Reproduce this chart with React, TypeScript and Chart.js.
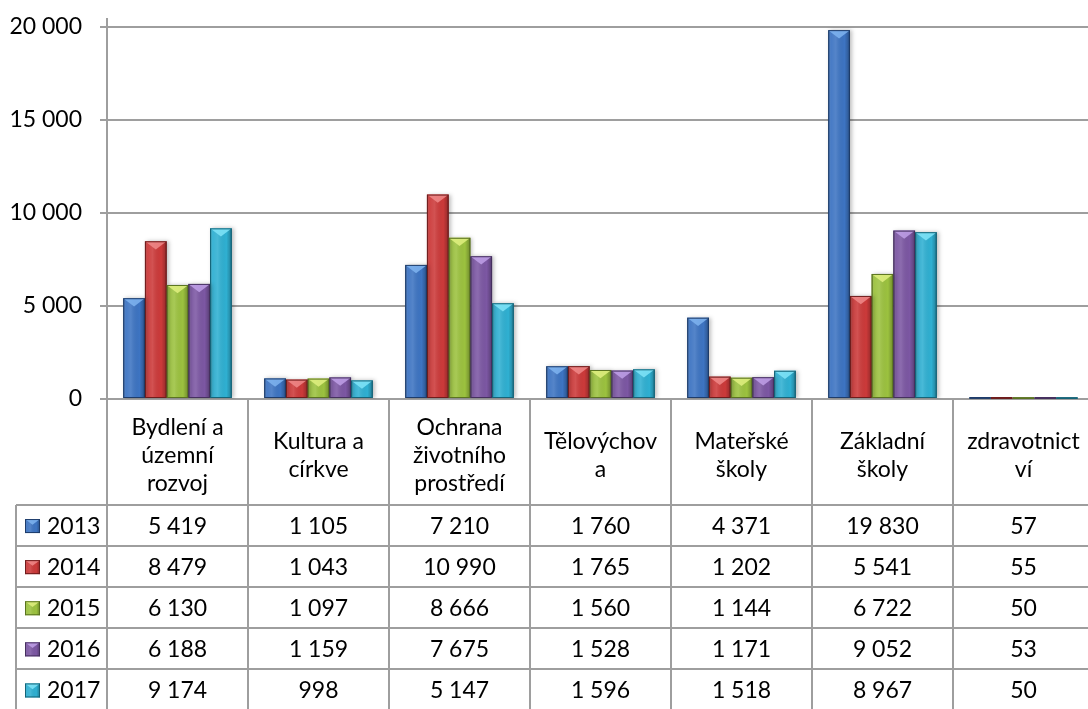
import React, { useEffect, useRef } from "react";
import { Chart, registerables } from "chart.js";

Chart.register(...registerables);

const categories = [
  "Bydlení a územní rozvoj",
  "Kultura a církve",
  "Ochrana životního prostředí",
  "Tělovýchova",
  "Mateřské školy",
  "Základní školy",
  "zdravotnictví",
];
const categoryLines = [
  ["Bydlení a", "územní", "rozvoj"],
  ["Kultura a", "církve"],
  ["Ochrana", "životního", "prostředí"],
  ["Tělovýchov", "a"],
  ["Mateřské", "školy"],
  ["Základní", "školy"],
  ["zdravotnict", "ví"],
];
const years = ["2013", "2014", "2015", "2016", "2017"];
const v2013 = [5419, 1105, 7210, 1760, 4371, 19830, 57];
const v2014 = [8479, 1043, 10990, 1765, 1202, 5541, 55];
const v2015 = [6130, 1097, 8666, 1560, 1144, 6722, 50];
const v2016 = [6188, 1159, 7675, 1528, 1171, 9052, 53];
const v2017 = [9174, 998, 5147, 1596, 1518, 8967, 50];
const seriesValues = [v2013, v2014, v2015, v2016, v2017];
const yTicks = [0, 5000, 10000, 15000, 20000];

const baseColors = ["#3D74C2", "#CC3A3A", "#9CC23F", "#7C57A3", "#2FB0D2"];
const edgeColors = ["#1E3C6A", "#6E1C1C", "#5A7320", "#45305E", "#156478"];
const lightColors = ["#7FB4F0", "#F08A8A", "#E0F080", "#C0A0E8", "#80E4F8"];

const FONT = "Lato, 'Open Sans', sans-serif";
const GRID = "#9E9E9E";

const fmt = (v: number) => String(v).replace(/\B(?=(\d{3})+(?!\d))/g, " ");

function bevel(ctx: CanvasRenderingContext2D, left: number, top: number, w: number, h: number, i: number) {
  if (h <= 0) return;
  const g = ctx.createLinearGradient(left, 0, left + w, 0);
  g.addColorStop(0, "rgba(0,0,0,0.35)");
  g.addColorStop(0.12, "rgba(255,255,255,0.05)");
  g.addColorStop(0.35, "rgba(255,255,255,0.12)");
  g.addColorStop(0.75, "rgba(0,0,0,0.0)");
  g.addColorStop(0.92, "rgba(0,0,0,0.2)");
  g.addColorStop(1, "rgba(0,0,0,0.45)");
  ctx.fillStyle = g;
  ctx.fillRect(left, top, w, h);
  const th = Math.min(w * 0.38, h);
  ctx.beginPath();
  ctx.moveTo(left, top);
  ctx.lineTo(left + w, top);
  ctx.lineTo(left + w / 2, top + th);
  ctx.closePath();
  ctx.fillStyle = lightColors[i];
  ctx.globalAlpha = 0.85;
  ctx.fill();
  ctx.globalAlpha = 1;
  ctx.strokeStyle = edgeColors[i];
  ctx.lineWidth = 1;
  ctx.strokeRect(left + 0.5, top + 0.5, w - 1, h - 1);
}

const decoPlugin = {
  id: "deco",
  beforeDatasetsDraw(chart: any) {
    const ctx = chart.ctx;
    ctx.save();
    ctx.shadowColor = "rgba(0,0,0,0.25)";
    ctx.shadowBlur = 4;
    ctx.shadowOffsetX = 2;
  },
  afterDatasetsDraw(chart: any) {
    const ctx = chart.ctx;
    ctx.restore();
    ctx.save();
    chart.data.datasets.forEach((_: any, di: number) => {
      const meta = chart.getDatasetMeta(di);
      meta.data.forEach((el: any) => {
        const w = el.width;
        const left = el.x - w / 2;
        const top = Math.min(el.y, el.base);
        const h = Math.abs(el.base - el.y);
        bevel(ctx, left, top, w, h, di);
      });
    });
    ctx.restore();
  },
  afterDraw(chart: any) {
    const ctx = chart.ctx;
    const xs = chart.scales.x;
    const area = chart.chartArea;
    const W = chart.width;
    const H = chart.height;
    const catW = (area.right - area.left) / categories.length;
    const headerTop = area.bottom;
    const headerBottom = 505;
    const rowH = (H - headerBottom + 1.5) / years.length;
    ctx.save();
    ctx.strokeStyle = GRID;
    ctx.lineWidth = 2;
    ctx.beginPath();
    ctx.moveTo(area.left, 18);
    ctx.lineTo(area.left, H);
    for (let i = 1; i < categories.length; i++) {
      const x = Math.round(area.left + i * catW);
      ctx.moveTo(x, headerTop);
      ctx.lineTo(x, H);
    }
    ctx.moveTo(16, headerBottom);
    ctx.lineTo(16, H);
    for (let r = 0; r < years.length; r++) {
      const y = Math.round(headerBottom + r * rowH);
      ctx.moveTo(16, y);
      ctx.lineTo(W, y);
    }
    ctx.stroke();

    ctx.fillStyle = "#000";
    ctx.font = `23px ${FONT}`;
    ctx.textAlign = "center";
    ctx.textBaseline = "middle";
    const lh = 28;
    const hc = (headerTop + headerBottom) / 2 + 4;
    categoryLines.forEach((lines, i) => {
      const cx = xs.getPixelForValue(i);
      const y0 = hc - ((lines.length - 1) * lh) / 2;
      lines.forEach((t, k) => ctx.fillText(t, cx, y0 + k * lh));
    });
    seriesValues.forEach((vals, r) => {
      const cy = headerBottom + r * rowH + rowH / 2 + 1;
      vals.forEach((v, i) => {
        ctx.fillText(fmt(v), xs.getPixelForValue(i), cy);
      });
      const kx = 25, ks = 15;
      const ky = cy - ks / 2;
      ctx.fillStyle = baseColors[r];
      ctx.fillRect(kx, ky, ks, ks - 1);
      bevel(ctx, kx, ky, ks, ks - 1, r);
      ctx.fillStyle = "#000";
      ctx.textAlign = "left";
      ctx.fillText(years[r], 47, cy);
      ctx.textAlign = "center";
    });
    ctx.restore();
  },
};

export default function App() {
  const ref = useRef<HTMLCanvasElement>(null);
  useEffect(() => {
    document.body.style.margin = "0";
    const canvas = ref.current!;
    const chart = new Chart(canvas, {
      type: "bar",
      data: {
        labels: categories,
        datasets: seriesValues.map((vals, i) => ({
          label: years[i],
          data: vals,
          backgroundColor: baseColors[i],
          borderWidth: 0,
          categoryPercentage: 0.77,
          barPercentage: 1,
        })),
      },
      options: {
        responsive: false,
        animation: false,
        layout: { padding: { top: 0, bottom: 310, left: 0, right: 0 } },
        plugins: { legend: { display: false }, tooltip: { enabled: false } },
        scales: {
          x: {
            display: false,
            grid: { display: false },
          },
          y: {
            min: 0,
            max: 20000,
            afterFit: (s: any) => {
              s.width = 107;
            },
            afterBuildTicks: (s: any) => {
              s.ticks = yTicks.map((v) => ({ value: v }));
            },
            ticks: {
              font: { family: FONT, size: 23, lineHeight: 0.78 },
              color: "#000",
              padding: 18,
              callback: (v: any) => fmt(Number(v)),
            },
            border: { display: false },
            grid: { color: GRID, lineWidth: 2, tickLength: 7 },
          },
        },
      },
      plugins: [decoPlugin],
    });
    return () => chart.destroy();
  }, []);
  return (
    <div style={{ width: 1088, height: 709, overflow: "hidden", background: "#fff" }}>
      <canvas ref={ref} width={1094} height={709} style={{ display: "block" }} />
    </div>
  );
}
